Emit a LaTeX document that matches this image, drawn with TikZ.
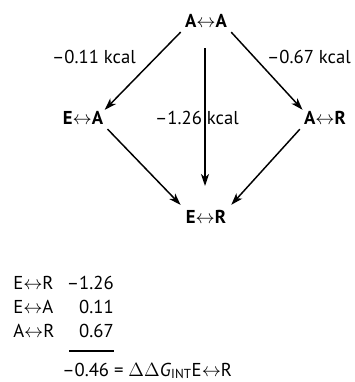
\documentclass[tikz,border=0pt]{standalone}
\usepackage{fontspec}
\setmainfont{PT Sans}
\usepackage{tikz}
\usetikzlibrary{arrows.meta,positioning}
\tikzset{
  >={Stealth[length=9pt,width=6pt,inset=2.5pt]},
  st/.style={font=\fontsize{14}{16}\selectfont\bfseries, inner sep=1pt},
  lab/.style={font=\fontsize{14}{16}\selectfont, inner sep=1pt},
  sum/.style={font=\fontsize{14}{16}\selectfont, inner sep=0pt},
  flow/.style={->, line width=1.1pt},
}
\newcommand{\lr}{$\leftrightarrow$}

\begin{document}
\begin{tikzpicture}[x=0.75pt, y=-0.75pt]
  \useasboundingbox (0,0) rectangle (354,382);
  \node[st] (aa) at (206,21) {A\lr A};
  \node[st] (ea) at (83,118) {E\lr A};
  \node[st] (ar) at (325,118) {A\lr R};
  \node[st] (er) at (206,217) {E\lr R};
  \node[lab] (l1) at (94,57) {--0.11 kcal};
  \node[lab] (l2) at (309,57) {--0.67 kcal};
  \node[lab] (l3) at (197,118) {--1.26 kcal};
  \coordinate (top) at (205,48);
  \coordinate (bot) at (205,186);
  \draw[flow, shorten <=3pt] (aa.south west) -- (ea.north east);
  \draw[flow, shorten <=3pt] (aa.south east) -- (ar.north west);
  \draw[flow] (top) -- (bot);
  \draw[flow, shorten <=3pt, shorten >=4pt] (ea.south east) -- (er.north west);
  \draw[flow, shorten <=3pt, shorten >=4pt] (ar.south west) -- (er.north east);
  % summary
  \node[sum, anchor=base west] (t1) at (13,289) {E\lr R};
  \node[sum, anchor=base east] (v1) at (114,289) {--1.26};
  \node[sum, anchor=base west] (t2) at (13,313) {E\lr A};
  \node[sum, anchor=base east] (v2) at (114,313) {0.11};
  \node[sum, anchor=base west] (t3) at (13,337) {A\lr R};
  \node[sum, anchor=base east] (v3) at (114,337) {0.67};
  \coordinate (r1) at (69,351);
  \coordinate (r2) at (114,351);
  \draw[line width=0.9pt] (r1) -- (r2);
  \node[sum, anchor=base west] (tot) at (62,376) {--0.46 = $\Delta\Delta$\textit{G}\textsubscript{INT}E\lr R};
\end{tikzpicture}
\end{document}
